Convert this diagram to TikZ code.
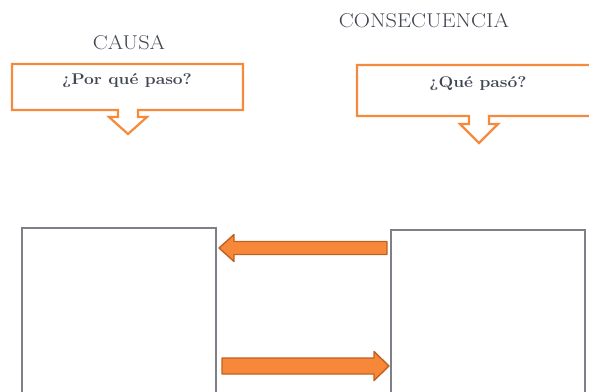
\documentclass[tikz,border=0pt]{standalone}
\usepackage{fontspec}
\usepackage{tikz}
\usetikzlibrary{calc}
\newfontfamily\widefont{Latin Modern Roman}[FakeStretch=1.12]
\definecolor{ink}{HTML}{414652}
\definecolor{orangeline}{HTML}{F68A3C}
\definecolor{orangefill}{HTML}{F7883A}
\definecolor{orangedark}{HTML}{C0621F}
\definecolor{panelgray}{HTML}{7E8088}
\tikzset{
  title/.style={font=\widefont\fontsize{20}{22}\selectfont, text=ink, inner sep=0pt},
  question/.style={font=\widefont\fontsize{15.5}{17}\selectfont\bfseries, text=ink, inner sep=0pt},
  callout/.style={draw=orangeline, line width=2.2pt, fill=white, line join=miter},
  panel/.style={draw=panelgray, line width=2pt, fill=white, inner sep=0pt},
  blockarrow/.style={draw=orangedark, fill=orangefill, line width=1.4pt, line join=round}
}

\begin{document}
\begin{tikzpicture}[x=1pt,y=-1pt]
  \useasboundingbox (0,0) rectangle (589,391);
  \clip (0,0) rectangle (589,391);

  % titles
  \node[title] (cause) at (129,43) {CAUSA};
  \node[title] (effect) at (424,21) {CONSECUENCIA};

  % callouts
  \draw[callout] (12,64) -- (243,64) -- (243,110) -- (138,110) -- (138,117) -- (147,117)
    -- (128,134) -- (109,117) -- (118,117) -- (118,110) -- (12,110) -- cycle;
  \node[question] (why) at (127,80.5) {¿Por qué paso?};

  \draw[callout] (357,65) -- (600,65) -- (600,116) -- (489,116) -- (489,124) -- (498,124)
    -- (479,143) -- (460,124) -- (469,124) -- (469,116) -- (357,116) -- cycle;
  \node[question] (what) at (478,84) {¿Qué pasó?};

  % panels
  \node[panel, minimum width=194pt, minimum height=172pt] (causepanel) at (119,314) {};
  \node[panel, minimum width=194pt, minimum height=172pt] (effectpanel) at (488,316) {};

  % block arrows
  \coordinate (backtip) at ($(causepanel.east |- 0,248)+(2,0)$);
  \coordinate (backtail) at ($(effectpanel.west |- 0,248)+(-3,0)$);
  \draw[blockarrow] ($(backtail)+(0,-6.5)$) -- ($(backtip)+(15,-6.5)$) -- ($(backtip)+(15,-13.5)$)
    -- (backtip) -- ($(backtip)+(15,13.5)$) -- ($(backtip)+(15,6.5)$) -- ($(backtail)+(0,6.5)$) -- cycle;

  \coordinate (fwdtail) at ($(causepanel.east |- 0,366)+(5,0)$);
  \coordinate (fwdtip) at ($(effectpanel.west |- 0,366)+(-1,0)$);
  \draw[blockarrow] ($(fwdtail)+(0,-8)$) -- ($(fwdtip)+(-15,-8)$) -- ($(fwdtip)+(-15,-14.5)$)
    -- (fwdtip) -- ($(fwdtip)+(-15,14.5)$) -- ($(fwdtip)+(-15,8)$) -- ($(fwdtail)+(0,8)$) -- cycle;
\end{tikzpicture}
\end{document}
